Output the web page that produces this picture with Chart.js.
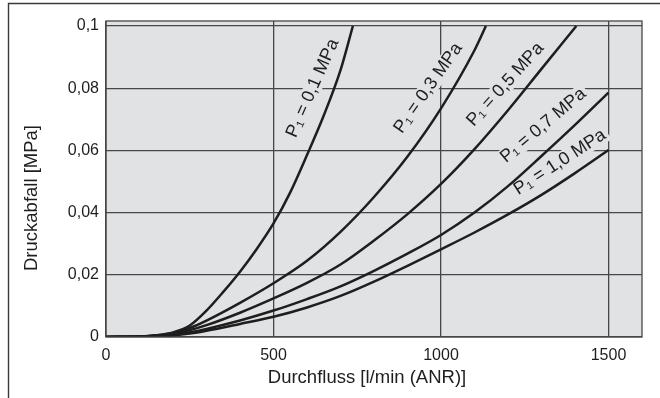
<!DOCTYPE html>
<html>
<head>
<meta charset="utf-8">
<script src="https://cdn.jsdelivr.net/npm/chart.js@4"></script>
<style>
    body { margin: 0; background: #fff; }
    #wrap { position: relative; width: 660px; height: 398px; }
</style>
</head>
<body>
<div id="wrap"><canvas id="dropChart" width="660" height="398"></canvas></div>
<script>
// Druckabfall vs. Durchfluss, one curve per inlet pressure P1
const flow01 = [0, 100, 150, 200, 250, 300, 350, 400, 450, 500, 550, 600, 650, 700, 737];
const drop01 = [0, 0.0002, 0.0006, 0.0015, 0.0037, 0.0085, 0.0145, 0.021, 0.0283, 0.0365, 0.0465, 0.0585, 0.0712, 0.0858, 0.1];

const flow03 = [0, 100, 150, 200, 250, 300, 400, 500, 600, 700, 800, 900, 1000, 1100, 1134];
const drop03 = [0, 0.0002, 0.0005, 0.0013, 0.0029, 0.0053, 0.011, 0.0173, 0.0245, 0.0338, 0.045, 0.058, 0.0735, 0.0922, 0.1];

const flow05 = [0, 100, 150, 200, 250, 300, 400, 500, 600, 700, 800, 900, 1000, 1100, 1200, 1300, 1404];
const drop05 = [0, 0.0002, 0.0004, 0.001, 0.0022, 0.0038, 0.0078, 0.0124, 0.0174, 0.0233, 0.031, 0.0395, 0.0492, 0.0604, 0.0729, 0.0862, 0.1];

const flow07 = [0, 100, 150, 200, 250, 300, 400, 500, 600, 700, 800, 900, 1000, 1100, 1200, 1300, 1400, 1500];
const drop07 = [0, 0.0001, 0.0003, 0.0007, 0.0015, 0.0026, 0.0053, 0.0085, 0.0122, 0.0163, 0.0213, 0.0268, 0.0328, 0.04, 0.0485, 0.0582, 0.0682, 0.0786];

const flow10 = [0, 100, 150, 200, 250, 300, 400, 500, 600, 700, 800, 900, 1000, 1100, 1200, 1300, 1400, 1500];
const drop10 = [0, 0.0001, 0.0002, 0.0005, 0.0011, 0.002, 0.0042, 0.0065, 0.0095, 0.0132, 0.0178, 0.0229, 0.0282, 0.0336, 0.0394, 0.0457, 0.0527, 0.0601];

const seriesNames = ['P₁ = 0,1 MPa', 'P₁ = 0,3 MPa', 'P₁ = 0,5 MPa', 'P₁ = 0,7 MPa', 'P₁ = 1,0 MPa'];

const xTicks = [0, 500, 1000, 1500];
const xTickLabels = ['0', '500', '1000', '1500'];
const yTicks = [0, 0.02, 0.04, 0.06, 0.08, 0.1];
const yTickLabels = ['0', '0,02', '0,04', '0,06', '0,08', '0,1'];

const xTitle = 'Durchfluss [l/min (ANR)]';
const yTitle = 'Druckabfall [MPa]';

const FONT = '"Liberation Sans", Arial, Helvetica, sans-serif';
const INK = '#1e1e1e';
const PLOT_BG = '#e1e2e4';
const GRID = '#474747';

function toPoints(xs, ys) {
    return xs.map((x, i) => ({ x: x, y: ys[i] }));
}

// where each curve label sits (data coords) and its slant in degrees
const curveLabels = [
    { x: 617, y: 0.0800, angle: -66 },
    { x: 962, y: 0.0800, angle: -55 },
    { x: 1192, y: 0.0812, angle: -48 },
    { x: 1305, y: 0.0680, angle: -40 },
    { x: 1355, y: 0.0562, angle: -33 }
];

const series = [
    toPoints(flow01, drop01),
    toPoints(flow03, drop03),
    toPoints(flow05, drop05),
    toPoints(flow07, drop07),
    toPoints(flow10, drop10)
];

const plotDecor = {
    id: 'plotDecor',
    beforeDraw(chart) {
        const { ctx, chartArea: a } = chart;
        ctx.save();
        ctx.fillStyle = PLOT_BG;
        ctx.fillRect(a.left, a.top, a.right - a.left, a.bottom - a.top);
        // outer frame (top + left)
        ctx.strokeStyle = '#3a3a3a';
        ctx.lineWidth = 1.4;
        ctx.beginPath();
        ctx.moveTo(8.5, 398);
        ctx.lineTo(8.5, 3.5);
        ctx.lineTo(660, 3.5);
        ctx.stroke();
        ctx.restore();
    },
    beforeDatasetsDraw(chart) {
        const { ctx, scales } = chart;
        ctx.save();
        ctx.font = '18px ' + FONT;
        ctx.textAlign = 'center';
        ctx.textBaseline = 'middle';
        curveLabels.forEach((lab, i) => {
            const px = scales.x.getPixelForValue(lab.x);
            const py = scales.y.getPixelForValue(lab.y);
            const w = ctx.measureText(seriesNames[i]).width;
            ctx.save();
            ctx.translate(px, py);
            ctx.rotate(lab.angle * Math.PI / 180);
            ctx.fillStyle = PLOT_BG;
            ctx.fillRect(-w / 2 - 3, -9, w + 6, 18);
            ctx.fillStyle = INK;
            ctx.fillText(seriesNames[i], 0, 0);
            ctx.restore();
        });
        ctx.restore();
    },
    afterDraw(chart) {
        const { ctx, chartArea: a } = chart;
        ctx.save();
        ctx.strokeStyle = GRID;
        ctx.lineWidth = 1.3;
        ctx.strokeRect(a.left, a.top, a.right - a.left, a.bottom - a.top);
        ctx.fillStyle = INK;
        ctx.font = '18.5px ' + FONT;
        ctx.textAlign = 'center';
        ctx.textBaseline = 'middle';
        ctx.fillText(xTitle, 367, 378);
        ctx.translate(32, 198);
        ctx.rotate(-Math.PI / 2);
        ctx.fillText(yTitle, 0, 0);
        ctx.restore();
    }
};

new Chart(document.getElementById('dropChart'), {
    type: 'scatter',
    data: {
        datasets: series.map((pts, i) => ({
            label: seriesNames[i],
            data: pts,
            showLine: true,
            borderColor: INK,
            borderWidth: 2.5,
            pointRadius: 0,
            fill: false,
            cubicInterpolationMode: 'monotone'
        }))
    },
    options: {
        responsive: false,
        animation: false,
        layout: { padding: { top: 21, right: 18, left: 0, bottom: 0 } },
        plugins: {
            legend: { display: false },
            tooltip: { enabled: false }
        },
        scales: {
            x: {
                type: 'linear',
                min: 0,
                max: 1600,
                afterFit: s => { s.height = 61; },
                afterBuildTicks: s => { s.ticks = xTicks.map(v => ({ value: v })); },
                grid: { color: GRID, lineWidth: 1.3, drawTicks: false },
                border: { display: false },
                ticks: {
                    padding: 9,
                    color: INK,
                    font: { family: FONT, size: 16 },
                    maxRotation: 0,
                    callback: (v) => xTickLabels[xTicks.indexOf(v)]
                }
            },
            y: {
                type: 'linear',
                min: 0,
                max: 0.1016,
                afterFit: s => { s.width = 106; },
                afterBuildTicks: s => { s.ticks = yTicks.map(v => ({ value: v })); },
                grid: { color: GRID, lineWidth: 1.3, drawTicks: false },
                border: { display: false },
                ticks: {
                    padding: 7,
                    color: INK,
                    font: { family: FONT, size: 16 },
                    callback: (v) => yTickLabels[yTicks.indexOf(v)]
                }
            }
        }
    },
    plugins: [plotDecor]
});
</script>
</body>
</html>
